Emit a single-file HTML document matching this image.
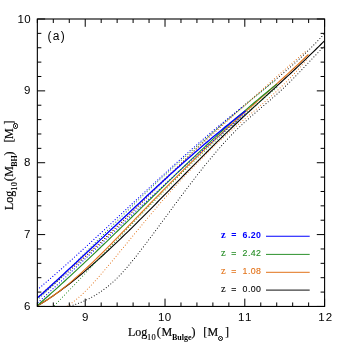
<!DOCTYPE html>
<html><head><meta charset="utf-8"><title>fig</title>
<style>
html,body{margin:0;padding:0;background:#fff;}
body{width:343px;height:343px;position:relative;overflow:hidden;font-family:"Liberation Sans",sans-serif;color:#000;}
svg{position:absolute;left:0;top:0;}
.t{position:absolute;white-space:nowrap;line-height:1;}
#w{position:absolute;left:0;top:0;width:343px;height:343px;will-change:transform;}
.tk{font-size:11.5px;letter-spacing:0.3px;}
.lab{position:absolute;width:110px;height:18px;font-family:"Liberation Serif",serif;}
.lab span{position:absolute;white-space:nowrap;line-height:1;}
.lab .m{font-size:12px;top:0;-webkit-text-stroke:0.18px #000;}
.lab .s{font-size:8px;top:7.5px;font-weight:bold;}
.lab .o{width:3.9px;height:3.9px;border:0.8px solid #000;border-radius:50%;top:9.6px;box-sizing:content-box;}
.lab .o::after{content:"";position:absolute;left:1.35px;top:1.35px;width:1.2px;height:1.2px;background:#000;border-radius:50%;}
.lg{font-size:8.8px;letter-spacing:0.4px;}
.lg .z{font-family:"Liberation Serif",serif;font-size:10.5px;letter-spacing:0;}
</style></head><body><div id="w">
<svg width="343" height="343" viewBox="0 0 343 343">
<defs><clipPath id="cp"><rect x="37.35" y="19.0" width="287.25" height="287.45"/></clipPath></defs><g clip-path="url(#cp)">
<path d="M37.30,298.50 C37.97,297.95 39.97,296.29 41.30,295.17 C42.63,294.06 43.97,292.94 45.30,291.81 C46.63,290.69 47.97,289.55 49.30,288.42 C50.63,287.28 51.97,286.14 53.30,284.99 C54.63,283.84 55.97,282.69 57.30,281.53 C58.63,280.37 59.97,279.20 61.30,278.03 C62.63,276.86 63.97,275.69 65.30,274.51 C66.63,273.33 67.97,272.15 69.30,270.96 C70.63,269.77 71.97,268.57 73.30,267.37 C74.63,266.18 75.97,264.97 77.30,263.76 C78.63,262.56 79.97,261.35 81.30,260.13 C82.63,258.91 83.97,257.69 85.30,256.47 C86.63,255.24 87.97,254.01 89.30,252.78 C90.63,251.55 91.97,250.31 93.30,249.07 C94.63,247.83 95.97,246.59 97.30,245.34 C98.63,244.09 99.97,242.84 101.30,241.59 C102.63,240.33 103.97,239.07 105.30,237.81 C106.63,236.55 107.97,235.29 109.30,234.02 C110.63,232.75 111.97,231.48 113.30,230.21 C114.63,228.94 115.97,227.66 117.30,226.38 C118.63,225.10 119.97,223.82 121.30,222.53 C122.63,221.25 123.97,219.96 125.30,218.67 C126.63,217.38 127.97,216.09 129.30,214.80 C130.63,213.50 131.97,212.21 133.30,210.91 C134.63,209.61 135.97,208.31 137.30,207.01 C138.63,205.71 139.97,204.40 141.30,203.10 C142.63,201.79 143.97,200.48 145.30,199.17 C146.63,197.86 147.97,196.55 149.30,195.24 C150.63,193.93 151.97,192.62 153.30,191.30 C154.63,189.99 155.97,188.67 157.30,187.35 C158.63,186.04 159.97,184.72 161.30,183.40 C162.63,182.08 163.97,180.76 165.30,179.44 C166.63,178.12 167.97,176.80 169.30,175.48 C170.63,174.15 171.97,172.83 173.30,171.51 C174.63,170.19 175.97,168.86 177.30,167.54 C178.63,166.22 179.97,164.89 181.30,163.57 C182.63,162.25 183.97,160.92 185.30,159.60 C186.63,158.28 187.97,156.96 189.30,155.64 C190.63,154.32 191.97,153.01 193.30,151.69 C194.63,150.38 195.97,149.07 197.30,147.77 C198.63,146.47 199.97,145.17 201.30,143.87 C202.63,142.58 203.97,141.29 205.30,140.01 C206.63,138.73 207.97,137.46 209.30,136.19 C210.63,134.93 211.97,133.67 213.30,132.42 C214.63,131.17 215.97,129.93 217.30,128.70 C218.63,127.47 219.97,126.25 221.30,125.05 C222.63,123.84 223.97,122.64 225.30,121.46 C226.63,120.27 227.97,119.10 229.30,117.93 C230.63,116.77 231.97,115.61 233.30,114.47 C234.63,113.32 235.97,112.18 237.30,111.05 C238.63,109.92 239.97,108.80 241.30,107.68 C242.63,106.57 243.97,105.46 245.30,104.35 C246.63,103.25 247.97,102.15 249.30,101.05 C250.63,99.96 251.97,98.87 253.30,97.78 C254.63,96.69 255.97,95.60 257.30,94.52 C258.63,93.43 259.97,92.35 261.30,91.27 C262.63,90.18 263.97,89.10 265.30,88.02 C266.63,86.93 267.97,85.84 269.30,84.75 C270.63,83.66 271.97,82.57 273.30,81.47 C274.63,80.37 275.97,79.27 277.30,78.16 C278.63,77.05 279.97,75.93 281.30,74.81 C282.63,73.68 283.97,72.55 285.30,71.40 C286.63,70.26 287.97,69.11 289.30,67.95 C290.63,66.78 291.97,65.61 293.30,64.42 C294.63,63.23 295.97,62.03 297.30,60.81 C298.63,59.60 299.97,58.37 301.30,57.12 C302.63,55.87 303.97,54.61 305.30,53.33 C306.63,52.05 307.97,50.76 309.30,49.44 C310.63,48.12 311.97,46.78 313.30,45.43 C314.63,44.07 315.97,42.69 317.30,41.29 C318.63,39.89 320.10,38.32 321.30,37.02 C322.50,35.72 323.97,34.09 324.50,33.50" fill="none" stroke="#000000" stroke-width="1.05" stroke-dasharray="0.01,2.9" stroke-linecap="round"/>
<path d="M70.20,306.00 C70.87,305.80 72.87,305.21 74.20,304.78 C75.53,304.35 76.87,303.89 78.20,303.39 C79.53,302.90 80.87,302.38 82.20,301.82 C83.53,301.27 84.87,300.68 86.20,300.05 C87.53,299.43 88.87,298.77 90.20,298.07 C91.53,297.37 92.87,296.64 94.20,295.86 C95.53,295.08 96.87,294.27 98.20,293.41 C99.53,292.55 100.87,291.64 102.20,290.69 C103.53,289.74 104.87,288.75 106.20,287.71 C107.53,286.67 108.87,285.58 110.20,284.43 C111.53,283.29 112.87,282.10 114.20,280.86 C115.53,279.61 116.87,278.31 118.20,276.96 C119.53,275.61 120.87,274.21 122.20,272.76 C123.53,271.31 124.87,269.81 126.20,268.28 C127.53,266.75 128.87,265.18 130.20,263.57 C131.53,261.97 132.87,260.33 134.20,258.67 C135.53,257.01 136.87,255.31 138.20,253.61 C139.53,251.90 140.87,250.17 142.20,248.43 C143.53,246.69 144.87,244.94 146.20,243.18 C147.53,241.41 148.87,239.64 150.20,237.86 C151.53,236.09 152.87,234.30 154.20,232.51 C155.53,230.72 156.87,228.92 158.20,227.12 C159.53,225.32 160.87,223.51 162.20,221.71 C163.53,219.90 164.87,218.09 166.20,216.29 C167.53,214.48 168.87,212.67 170.20,210.87 C171.53,209.06 172.87,207.26 174.20,205.46 C175.53,203.66 176.87,201.86 178.20,200.07 C179.53,198.28 180.87,196.50 182.20,194.72 C183.53,192.94 184.87,191.17 186.20,189.41 C187.53,187.65 188.87,185.89 190.20,184.15 C191.53,182.41 192.87,180.67 194.20,178.95 C195.53,177.23 196.87,175.51 198.20,173.81 C199.53,172.12 200.87,170.43 202.20,168.76 C203.53,167.09 204.87,165.43 206.20,163.79 C207.53,162.15 208.87,160.52 210.20,158.92 C211.53,157.31 212.87,155.72 214.20,154.15 C215.53,152.58 216.87,151.02 218.20,149.49 C219.53,147.96 220.87,146.45 222.20,144.96 C223.53,143.47 224.87,142.00 226.20,140.56 C227.53,139.12 228.87,137.70 230.20,136.30 C231.53,134.91 232.87,133.54 234.20,132.19 C235.53,130.85 236.87,129.53 238.20,128.24 C239.53,126.95 240.87,125.69 242.20,124.45 C243.53,123.20 244.87,121.98 246.20,120.78 C247.53,119.57 248.87,118.39 250.20,117.21 C251.53,116.04 252.87,114.88 254.20,113.73 C255.53,112.57 256.87,111.43 258.20,110.29 C259.53,109.15 260.87,108.02 262.20,106.88 C263.53,105.75 264.87,104.61 266.20,103.47 C267.53,102.33 268.87,101.19 270.20,100.04 C271.53,98.88 272.87,97.73 274.20,96.55 C275.53,95.38 276.87,94.19 278.20,92.99 C279.53,91.78 280.87,90.56 282.20,89.32 C283.53,88.08 284.87,86.81 286.20,85.52 C287.53,84.24 288.87,82.93 290.20,81.60 C291.53,80.28 292.87,78.93 294.20,77.57 C295.53,76.21 296.87,74.84 298.20,73.46 C299.53,72.08 300.87,70.68 302.20,69.28 C303.53,67.89 304.87,66.48 306.20,65.07 C307.53,63.66 308.87,62.25 310.20,60.84 C311.53,59.43 312.87,58.01 314.20,56.61 C315.53,55.20 316.87,53.80 318.20,52.41 C319.53,51.02 321.15,49.34 322.20,48.26 C323.25,47.17 324.12,46.29 324.50,45.90" fill="none" stroke="#000000" stroke-width="1.05" stroke-dasharray="0.01,2.9" stroke-linecap="round"/>
<path d="M37.30,305.80 C37.97,305.40 39.97,304.24 41.30,303.43 C42.63,302.62 43.97,301.79 45.30,300.95 C46.63,300.10 47.97,299.24 49.30,298.36 C50.63,297.48 51.97,296.58 53.30,295.67 C54.63,294.76 55.97,293.82 57.30,292.88 C58.63,291.93 59.97,290.97 61.30,289.99 C62.63,289.02 63.97,288.02 65.30,287.02 C66.63,286.01 67.97,284.99 69.30,283.95 C70.63,282.92 71.97,281.87 73.30,280.81 C74.63,279.75 75.97,278.67 77.30,277.58 C78.63,276.50 79.97,275.39 81.30,274.28 C82.63,273.17 83.97,272.05 85.30,270.91 C86.63,269.78 87.97,268.63 89.30,267.47 C90.63,266.32 91.97,265.15 93.30,263.97 C94.63,262.79 95.97,261.61 97.30,260.41 C98.63,259.21 99.97,258.01 101.30,256.79 C102.63,255.58 103.97,254.36 105.30,253.13 C106.63,251.90 107.97,250.66 109.30,249.41 C110.63,248.17 111.97,246.91 113.30,245.66 C114.63,244.40 115.97,243.13 117.30,241.86 C118.63,240.59 119.97,239.31 121.30,238.02 C122.63,236.74 123.97,235.45 125.30,234.15 C126.63,232.86 127.97,231.56 129.30,230.25 C130.63,228.94 131.97,227.63 133.30,226.32 C134.63,225.00 135.97,223.68 137.30,222.36 C138.63,221.04 139.97,219.71 141.30,218.38 C142.63,217.04 143.97,215.71 145.30,214.37 C146.63,213.03 147.97,211.69 149.30,210.35 C150.63,209.00 151.97,207.66 153.30,206.31 C154.63,204.96 155.97,203.61 157.30,202.26 C158.63,200.90 159.97,199.55 161.30,198.19 C162.63,196.84 163.97,195.48 165.30,194.12 C166.63,192.76 167.97,191.40 169.30,190.04 C170.63,188.69 171.97,187.32 173.30,185.97 C174.63,184.61 175.97,183.25 177.30,181.89 C178.63,180.53 179.97,179.17 181.30,177.81 C182.63,176.45 183.97,175.09 185.30,173.74 C186.63,172.38 187.97,171.03 189.30,169.67 C190.63,168.32 191.97,166.97 193.30,165.62 C194.63,164.27 195.97,162.93 197.30,161.58 C198.63,160.24 199.97,158.90 201.30,157.56 C202.63,156.22 203.97,154.89 205.30,153.56 C206.63,152.23 207.97,150.90 209.30,149.58 C210.63,148.25 211.97,146.93 213.30,145.62 C214.63,144.30 215.97,142.99 217.30,141.69 C218.63,140.38 219.97,139.08 221.30,137.79 C222.63,136.49 223.97,135.20 225.30,133.92 C226.63,132.63 227.97,131.36 229.30,130.08 C230.63,128.81 231.97,127.54 233.30,126.28 C234.63,125.02 235.97,123.76 237.30,122.51 C238.63,121.26 239.97,120.01 241.30,118.76 C242.63,117.52 243.97,116.28 245.30,115.04 C246.63,113.80 247.97,112.57 249.30,111.33 C250.63,110.10 251.97,108.87 253.30,107.64 C254.63,106.42 255.97,105.19 257.30,103.97 C258.63,102.74 259.97,101.52 261.30,100.30 C262.63,99.08 263.97,97.86 265.30,96.64 C266.63,95.42 267.97,94.20 269.30,92.97 C270.63,91.75 271.97,90.53 273.30,89.31 C274.63,88.09 275.97,86.87 277.30,85.64 C278.63,84.42 279.97,83.20 281.30,81.97 C282.63,80.74 283.97,79.51 285.30,78.28 C286.63,77.05 287.97,75.81 289.30,74.58 C290.63,73.34 291.97,72.10 293.30,70.86 C294.63,69.61 295.97,68.36 297.30,67.11 C298.63,65.86 299.97,64.60 301.30,63.34 C302.63,62.08 303.97,60.82 305.30,59.54 C306.63,58.27 307.97,57.00 309.30,55.71 C310.63,54.43 311.97,53.14 313.30,51.85 C314.63,50.55 315.97,49.25 317.30,47.94 C318.63,46.63 320.10,45.18 321.30,43.99 C322.50,42.80 323.97,41.33 324.50,40.80" fill="none" stroke="#000000" stroke-width="1.12"/>
<path d="M37.30,297.80 C37.97,297.17 39.97,295.27 41.30,294.04 C42.63,292.80 43.97,291.58 45.30,290.37 C46.63,289.16 47.97,287.96 49.30,286.78 C50.63,285.60 51.97,284.43 53.30,283.26 C54.63,282.10 55.97,280.95 57.30,279.80 C58.63,278.66 59.97,277.52 61.30,276.39 C62.63,275.26 63.97,274.14 65.30,273.01 C66.63,271.89 67.97,270.77 69.30,269.66 C70.63,268.54 71.97,267.42 73.30,266.31 C74.63,265.19 75.97,264.08 77.30,262.96 C78.63,261.84 79.97,260.72 81.30,259.59 C82.63,258.47 83.97,257.34 85.30,256.20 C86.63,255.06 87.97,253.92 89.30,252.77 C90.63,251.61 91.97,250.45 93.30,249.28 C94.63,248.11 95.97,246.93 97.30,245.73 C98.63,244.54 99.97,243.33 101.30,242.11 C102.63,240.88 103.97,239.64 105.30,238.39 C106.63,237.14 107.97,235.88 109.30,234.60 C110.63,233.32 111.97,232.03 113.30,230.73 C114.63,229.43 115.97,228.12 117.30,226.80 C118.63,225.48 119.97,224.16 121.30,222.82 C122.63,221.49 123.97,220.14 125.30,218.79 C126.63,217.45 127.97,216.09 129.30,214.73 C130.63,213.37 131.97,212.01 133.30,210.65 C134.63,209.28 135.97,207.91 137.30,206.55 C138.63,205.18 139.97,203.81 141.30,202.44 C142.63,201.07 143.97,199.70 145.30,198.34 C146.63,196.97 147.97,195.61 149.30,194.25 C150.63,192.89 151.97,191.53 153.30,190.19 C154.63,188.84 155.97,187.49 157.30,186.15 C158.63,184.82 159.97,183.49 161.30,182.17 C162.63,180.84 163.97,179.53 165.30,178.23 C166.63,176.92 167.97,175.63 169.30,174.34 C170.63,173.05 171.97,171.77 173.30,170.50 C174.63,169.23 175.97,167.96 177.30,166.70 C178.63,165.44 179.97,164.19 181.30,162.94 C182.63,161.69 183.97,160.45 185.30,159.21 C186.63,157.98 187.97,156.75 189.30,155.52 C190.63,154.29 191.97,153.07 193.30,151.85 C194.63,150.63 195.97,149.42 197.30,148.21 C198.63,146.99 199.97,145.79 201.30,144.58 C202.63,143.37 203.97,142.17 205.30,140.97 C206.63,139.77 207.97,138.57 209.30,137.37 C210.63,136.17 211.97,134.97 213.30,133.77 C214.63,132.58 215.97,131.38 217.30,130.18 C218.63,128.99 219.97,127.79 221.30,126.59 C222.63,125.40 223.97,124.20 225.30,123.00 C226.63,121.80 227.97,120.60 229.30,119.39 C230.63,118.19 231.97,116.99 233.30,115.79 C234.63,114.58 235.97,113.38 237.30,112.17 C238.63,110.97 239.97,109.77 241.30,108.56 C242.63,107.36 243.97,106.15 245.30,104.95 C246.63,103.74 247.97,102.54 249.30,101.33 C250.63,100.13 251.97,98.92 253.30,97.72 C254.63,96.52 255.97,95.31 257.30,94.11 C258.63,92.91 259.97,91.71 261.30,90.51 C262.63,89.31 263.97,88.11 265.30,86.91 C266.63,85.71 267.97,84.52 269.30,83.32 C270.63,82.13 271.97,80.93 273.30,79.74 C274.63,78.55 275.97,77.36 277.30,76.18 C278.63,74.99 279.97,73.81 281.30,72.62 C282.63,71.44 283.97,70.26 285.30,69.08 C286.63,67.91 287.97,66.73 289.30,65.56 C290.63,64.39 291.97,63.22 293.30,62.05 C294.63,60.89 295.97,59.73 297.30,58.57 C298.63,57.41 299.97,56.25 301.30,55.10 C302.63,53.95 304.35,52.47 305.30,51.66 C306.25,50.84 306.72,50.44 307.00,50.20" fill="none" stroke="#e27219" stroke-width="1.05" stroke-dasharray="0.01,2.9" stroke-linecap="round"/>
<path d="M67.30,306.00 C67.97,305.56 69.97,304.28 71.30,303.33 C72.63,302.37 73.97,301.35 75.30,300.28 C76.63,299.21 77.97,298.08 79.30,296.90 C80.63,295.73 81.97,294.50 83.30,293.23 C84.63,291.96 85.97,290.64 87.30,289.29 C88.63,287.94 89.97,286.54 91.30,285.12 C92.63,283.70 93.97,282.24 95.30,280.76 C96.63,279.29 97.97,277.78 99.30,276.25 C100.63,274.72 101.97,273.17 103.30,271.61 C104.63,270.05 105.97,268.47 107.30,266.89 C108.63,265.31 109.97,263.71 111.30,262.11 C112.63,260.52 113.97,258.91 115.30,257.31 C116.63,255.70 117.97,254.09 119.30,252.47 C120.63,250.86 121.97,249.24 123.30,247.62 C124.63,246.00 125.97,244.38 127.30,242.75 C128.63,241.13 129.97,239.51 131.30,237.89 C132.63,236.26 133.97,234.64 135.30,233.02 C136.63,231.40 137.97,229.78 139.30,228.17 C140.63,226.55 141.97,224.94 143.30,223.33 C144.63,221.72 145.97,220.12 147.30,218.52 C148.63,216.92 149.97,215.33 151.30,213.75 C152.63,212.16 153.97,210.58 155.30,209.01 C156.63,207.44 157.97,205.87 159.30,204.32 C160.63,202.77 161.97,201.22 163.30,199.69 C164.63,198.15 165.97,196.63 167.30,195.11 C168.63,193.60 169.97,192.10 171.30,190.61 C172.63,189.11 173.97,187.63 175.30,186.16 C176.63,184.69 177.97,183.23 179.30,181.78 C180.63,180.33 181.97,178.89 183.30,177.46 C184.63,176.03 185.97,174.62 187.30,173.21 C188.63,171.80 189.97,170.40 191.30,169.02 C192.63,167.63 193.97,166.25 195.30,164.89 C196.63,163.52 197.97,162.17 199.30,160.82 C200.63,159.48 201.97,158.14 203.30,156.82 C204.63,155.50 205.97,154.18 207.30,152.88 C208.63,151.58 209.97,150.28 211.30,149.00 C212.63,147.72 213.97,146.45 215.30,145.19 C216.63,143.93 217.97,142.67 219.30,141.43 C220.63,140.19 221.97,138.96 223.30,137.74 C224.63,136.52 225.97,135.31 227.30,134.12 C228.63,132.92 229.97,131.73 231.30,130.55 C232.63,129.37 233.97,128.20 235.30,127.04 C236.63,125.88 237.97,124.73 239.30,123.59 C240.63,122.44 241.97,121.30 243.30,120.16 C244.63,119.03 245.97,117.90 247.30,116.76 C248.63,115.63 249.97,114.50 251.30,113.37 C252.63,112.24 253.97,111.10 255.30,109.97 C256.63,108.83 257.97,107.69 259.30,106.54 C260.63,105.40 261.97,104.25 263.30,103.09 C264.63,101.93 265.97,100.76 267.30,99.58 C268.63,98.40 269.97,97.22 271.30,96.01 C272.63,94.81 273.97,93.60 275.30,92.37 C276.63,91.14 277.97,89.90 279.30,88.63 C280.63,87.37 281.97,86.09 283.30,84.80 C284.63,83.50 285.97,82.18 287.30,80.84 C288.63,79.50 289.97,78.14 291.30,76.75 C292.63,75.36 293.97,73.95 295.30,72.51 C296.63,71.07 297.97,69.61 299.30,68.12 C300.63,66.62 301.97,65.10 303.30,63.55 C304.63,61.99 306.57,59.66 307.30,58.79 C308.03,57.91 307.63,58.38 307.70,58.30" fill="none" stroke="#e27219" stroke-width="1.05" stroke-dasharray="0.01,2.9" stroke-linecap="round"/>
<path d="M37.30,305.80 C37.97,305.42 39.97,304.30 41.30,303.50 C42.63,302.71 43.97,301.89 45.30,301.04 C46.63,300.20 47.97,299.32 49.30,298.43 C50.63,297.53 51.97,296.61 53.30,295.67 C54.63,294.72 55.97,293.76 57.30,292.77 C58.63,291.78 59.97,290.77 61.30,289.74 C62.63,288.71 63.97,287.65 65.30,286.58 C66.63,285.51 67.97,284.42 69.30,283.31 C70.63,282.20 71.97,281.07 73.30,279.93 C74.63,278.79 75.97,277.62 77.30,276.45 C78.63,275.27 79.97,274.08 81.30,272.87 C82.63,271.66 83.97,270.44 85.30,269.20 C86.63,267.97 87.97,266.72 89.30,265.46 C90.63,264.19 91.97,262.92 93.30,261.64 C94.63,260.35 95.97,259.05 97.30,257.75 C98.63,256.44 99.97,255.13 101.30,253.81 C102.63,252.48 103.97,251.15 105.30,249.81 C106.63,248.47 107.97,247.12 109.30,245.77 C110.63,244.42 111.97,243.06 113.30,241.70 C114.63,240.33 115.97,238.96 117.30,237.59 C118.63,236.22 119.97,234.84 121.30,233.46 C122.63,232.08 123.97,230.70 125.30,229.32 C126.63,227.94 127.97,226.56 129.30,225.17 C130.63,223.79 131.97,222.41 133.30,221.02 C134.63,219.64 135.97,218.26 137.30,216.88 C138.63,215.50 139.97,214.12 141.30,212.75 C142.63,211.37 143.97,210.00 145.30,208.62 C146.63,207.25 147.97,205.88 149.30,204.51 C150.63,203.14 151.97,201.78 153.30,200.41 C154.63,199.05 155.97,197.68 157.30,196.32 C158.63,194.96 159.97,193.61 161.30,192.25 C162.63,190.90 163.97,189.54 165.30,188.19 C166.63,186.84 167.97,185.50 169.30,184.15 C170.63,182.81 171.97,181.47 173.30,180.13 C174.63,178.79 175.97,177.45 177.30,176.12 C178.63,174.79 179.97,173.46 181.30,172.14 C182.63,170.81 183.97,169.49 185.30,168.17 C186.63,166.86 187.97,165.54 189.30,164.23 C190.63,162.92 191.97,161.61 193.30,160.31 C194.63,159.01 195.97,157.71 197.30,156.42 C198.63,155.12 199.97,153.83 201.30,152.55 C202.63,151.26 203.97,149.98 205.30,148.70 C206.63,147.43 207.97,146.15 209.30,144.89 C210.63,143.62 211.97,142.36 213.30,141.10 C214.63,139.84 215.97,138.59 217.30,137.34 C218.63,136.09 219.97,134.85 221.30,133.61 C222.63,132.37 223.97,131.14 225.30,129.92 C226.63,128.69 227.97,127.47 229.30,126.25 C230.63,125.03 231.97,123.82 233.30,122.61 C234.63,121.41 235.97,120.20 237.30,119.00 C238.63,117.80 239.97,116.60 241.30,115.41 C242.63,114.21 243.97,113.02 245.30,111.83 C246.63,110.64 247.97,109.46 249.30,108.27 C250.63,107.08 251.97,105.90 253.30,104.71 C254.63,103.53 255.97,102.35 257.30,101.16 C258.63,99.98 259.97,98.80 261.30,97.61 C262.63,96.43 263.97,95.24 265.30,94.06 C266.63,92.87 267.97,91.69 269.30,90.50 C270.63,89.31 271.97,88.12 273.30,86.92 C274.63,85.73 275.97,84.54 277.30,83.34 C278.63,82.14 279.97,80.94 281.30,79.73 C282.63,78.53 283.97,77.32 285.30,76.10 C286.63,74.89 287.97,73.67 289.30,72.45 C290.63,71.22 291.97,70.00 293.30,68.76 C294.63,67.53 295.97,66.29 297.30,65.04 C298.63,63.79 299.97,62.54 301.30,61.28 C302.63,60.02 304.12,58.61 305.30,57.48 C306.48,56.35 307.88,55.00 308.40,54.50" fill="none" stroke="#e27219" stroke-width="1.12"/>
<path d="M37.30,300.00 C37.97,299.37 39.97,297.48 41.30,296.21 C42.63,294.94 43.97,293.66 45.30,292.38 C46.63,291.10 47.97,289.81 49.30,288.52 C50.63,287.23 51.97,285.93 53.30,284.63 C54.63,283.32 55.97,282.02 57.30,280.71 C58.63,279.40 59.97,278.08 61.30,276.76 C62.63,275.44 63.97,274.12 65.30,272.80 C66.63,271.47 67.97,270.14 69.30,268.81 C70.63,267.48 71.97,266.15 73.30,264.81 C74.63,263.48 75.97,262.14 77.30,260.80 C78.63,259.46 79.97,258.12 81.30,256.78 C82.63,255.44 83.97,254.09 85.30,252.75 C86.63,251.41 87.97,250.06 89.30,248.72 C90.63,247.38 91.97,246.03 93.30,244.69 C94.63,243.35 95.97,242.01 97.30,240.66 C98.63,239.32 99.97,237.98 101.30,236.64 C102.63,235.31 103.97,233.97 105.30,232.63 C106.63,231.30 107.97,229.97 109.30,228.64 C110.63,227.31 111.97,225.98 113.30,224.65 C114.63,223.33 115.97,222.01 117.30,220.69 C118.63,219.37 119.97,218.05 121.30,216.74 C122.63,215.43 123.97,214.12 125.30,212.81 C126.63,211.50 127.97,210.20 129.30,208.90 C130.63,207.60 131.97,206.30 133.30,205.01 C134.63,203.72 135.97,202.43 137.30,201.14 C138.63,199.86 139.97,198.57 141.30,197.29 C142.63,196.02 143.97,194.74 145.30,193.47 C146.63,192.20 147.97,190.93 149.30,189.67 C150.63,188.40 151.97,187.15 153.30,185.89 C154.63,184.64 155.97,183.38 157.30,182.14 C158.63,180.89 159.97,179.65 161.30,178.41 C162.63,177.17 163.97,175.94 165.30,174.71 C166.63,173.48 167.97,172.26 169.30,171.03 C170.63,169.81 171.97,168.60 173.30,167.38 C174.63,166.17 175.97,164.96 177.30,163.75 C178.63,162.55 179.97,161.35 181.30,160.15 C182.63,158.95 183.97,157.76 185.30,156.57 C186.63,155.38 187.97,154.19 189.30,153.01 C190.63,151.82 191.97,150.64 193.30,149.47 C194.63,148.29 195.97,147.12 197.30,145.95 C198.63,144.78 199.97,143.61 201.30,142.45 C202.63,141.28 203.97,140.12 205.30,138.96 C206.63,137.81 207.97,136.65 209.30,135.50 C210.63,134.35 211.97,133.20 213.30,132.05 C214.63,130.91 215.97,129.76 217.30,128.62 C218.63,127.48 219.97,126.34 221.30,125.21 C222.63,124.07 223.97,122.94 225.30,121.81 C226.63,120.68 227.97,119.55 229.30,118.42 C230.63,117.29 231.97,116.17 233.30,115.05 C234.63,113.93 235.97,112.81 237.30,111.69 C238.63,110.57 239.97,109.45 241.30,108.34 C242.63,107.23 243.97,106.11 245.30,105.00 C246.63,103.89 247.97,102.79 249.30,101.68 C250.63,100.57 251.97,99.47 253.30,98.36 C254.63,97.26 255.97,96.16 257.30,95.05 C258.63,93.95 259.97,92.85 261.30,91.76 C262.63,90.66 263.97,89.56 265.30,88.46 C266.63,87.37 267.97,86.27 269.30,85.18 C270.63,84.08 272.08,82.90 273.30,81.90 C274.52,80.90 276.05,79.65 276.60,79.20" fill="none" stroke="#228b22" stroke-width="1.05" stroke-dasharray="0.01,2.9" stroke-linecap="round"/>
<path d="M54.40,305.50 C55.07,304.82 57.07,302.78 58.40,301.42 C59.73,300.05 61.07,298.68 62.40,297.31 C63.73,295.93 65.07,294.55 66.40,293.17 C67.73,291.79 69.07,290.40 70.40,289.01 C71.73,287.62 73.07,286.23 74.40,284.83 C75.73,283.44 77.07,282.04 78.40,280.64 C79.73,279.24 81.07,277.83 82.40,276.43 C83.73,275.03 85.07,273.62 86.40,272.21 C87.73,270.80 89.07,269.39 90.40,267.98 C91.73,266.57 93.07,265.16 94.40,263.75 C95.73,262.34 97.07,260.93 98.40,259.52 C99.73,258.10 101.07,256.69 102.40,255.28 C103.73,253.87 105.07,252.46 106.40,251.05 C107.73,249.64 109.07,248.23 110.40,246.82 C111.73,245.41 113.07,244.00 114.40,242.60 C115.73,241.19 117.07,239.78 118.40,238.38 C119.73,236.98 121.07,235.57 122.40,234.17 C123.73,232.77 125.07,231.37 126.40,229.97 C127.73,228.57 129.07,227.17 130.40,225.78 C131.73,224.38 133.07,222.99 134.40,221.60 C135.73,220.21 137.07,218.82 138.40,217.43 C139.73,216.04 141.07,214.66 142.40,213.27 C143.73,211.89 145.07,210.51 146.40,209.13 C147.73,207.75 149.07,206.38 150.40,205.00 C151.73,203.63 153.07,202.26 154.40,200.89 C155.73,199.52 157.07,198.15 158.40,196.79 C159.73,195.43 161.07,194.07 162.40,192.71 C163.73,191.35 165.07,190.00 166.40,188.65 C167.73,187.30 169.07,185.95 170.40,184.61 C171.73,183.26 173.07,181.92 174.40,180.59 C175.73,179.25 177.07,177.92 178.40,176.59 C179.73,175.26 181.07,173.93 182.40,172.61 C183.73,171.29 185.07,169.97 186.40,168.65 C187.73,167.34 189.07,166.03 190.40,164.72 C191.73,163.42 193.07,162.12 194.40,160.82 C195.73,159.52 197.07,158.23 198.40,156.94 C199.73,155.65 201.07,154.37 202.40,153.09 C203.73,151.81 205.07,150.54 206.40,149.27 C207.73,148.00 209.07,146.73 210.40,145.47 C211.73,144.21 213.07,142.96 214.40,141.71 C215.73,140.46 217.07,139.21 218.40,137.98 C219.73,136.74 221.07,135.50 222.40,134.28 C223.73,133.05 225.07,131.82 226.40,130.61 C227.73,129.39 229.07,128.18 230.40,126.98 C231.73,125.77 233.07,124.57 234.40,123.38 C235.73,122.18 237.07,121.00 238.40,119.82 C239.73,118.63 241.07,117.46 242.40,116.29 C243.73,115.12 245.07,113.96 246.40,112.80 C247.73,111.65 249.07,110.50 250.40,109.36 C251.73,108.22 253.07,107.08 254.40,105.95 C255.73,104.82 257.07,103.70 258.40,102.58 C259.73,101.47 261.07,100.36 262.40,99.26 C263.73,98.16 265.07,97.07 266.40,95.98 C267.73,94.89 269.07,93.81 270.40,92.74 C271.73,91.67 273.30,90.42 274.40,89.55 C275.50,88.68 276.57,87.84 277.00,87.50" fill="none" stroke="#228b22" stroke-width="1.05" stroke-dasharray="0.01,2.9" stroke-linecap="round"/>
<path d="M37.30,305.50 C37.97,304.92 39.97,303.19 41.30,302.02 C42.63,300.86 43.97,299.69 45.30,298.52 C46.63,297.34 47.97,296.16 49.30,294.98 C50.63,293.79 51.97,292.60 53.30,291.41 C54.63,290.21 55.97,289.01 57.30,287.81 C58.63,286.60 59.97,285.39 61.30,284.18 C62.63,282.97 63.97,281.75 65.30,280.53 C66.63,279.30 67.97,278.08 69.30,276.85 C70.63,275.62 71.97,274.39 73.30,273.15 C74.63,271.91 75.97,270.67 77.30,269.42 C78.63,268.18 79.97,266.93 81.30,265.68 C82.63,264.43 83.97,263.17 85.30,261.92 C86.63,260.66 87.97,259.40 89.30,258.13 C90.63,256.87 91.97,255.60 93.30,254.33 C94.63,253.07 95.97,251.79 97.30,250.52 C98.63,249.25 99.97,247.97 101.30,246.69 C102.63,245.41 103.97,244.13 105.30,242.85 C106.63,241.57 107.97,240.28 109.30,238.99 C110.63,237.71 111.97,236.42 113.30,235.13 C114.63,233.84 115.97,232.55 117.30,231.26 C118.63,229.96 119.97,228.67 121.30,227.37 C122.63,226.08 123.97,224.78 125.30,223.49 C126.63,222.19 127.97,220.89 129.30,219.59 C130.63,218.30 131.97,217.00 133.30,215.70 C134.63,214.40 135.97,213.10 137.30,211.80 C138.63,210.50 139.97,209.20 141.30,207.90 C142.63,206.60 143.97,205.29 145.30,203.99 C146.63,202.69 147.97,201.39 149.30,200.09 C150.63,198.80 151.97,197.50 153.30,196.20 C154.63,194.90 155.97,193.60 157.30,192.30 C158.63,191.01 159.97,189.71 161.30,188.42 C162.63,187.12 163.97,185.83 165.30,184.54 C166.63,183.24 167.97,181.95 169.30,180.66 C170.63,179.37 171.97,178.08 173.30,176.80 C174.63,175.51 175.97,174.23 177.30,172.94 C178.63,171.66 179.97,170.38 181.30,169.10 C182.63,167.82 183.97,166.55 185.30,165.27 C186.63,164.00 187.97,162.73 189.30,161.46 C190.63,160.19 191.97,158.92 193.30,157.66 C194.63,156.39 195.97,155.13 197.30,153.88 C198.63,152.62 199.97,151.36 201.30,150.11 C202.63,148.86 203.97,147.61 205.30,146.37 C206.63,145.12 207.97,143.88 209.30,142.65 C210.63,141.41 211.97,140.17 213.30,138.94 C214.63,137.72 215.97,136.49 217.30,135.27 C218.63,134.05 219.97,132.83 221.30,131.62 C222.63,130.40 223.97,129.19 225.30,127.99 C226.63,126.78 227.97,125.58 229.30,124.39 C230.63,123.20 231.97,122.00 233.30,120.82 C234.63,119.63 235.97,118.45 237.30,117.28 C238.63,116.11 239.97,114.94 241.30,113.77 C242.63,112.61 243.97,111.45 245.30,110.30 C246.63,109.14 247.97,108.00 249.30,106.85 C250.63,105.71 251.97,104.58 253.30,103.45 C254.63,102.32 255.97,101.19 257.30,100.08 C258.63,98.96 259.97,97.85 261.30,96.75 C262.63,95.64 263.97,94.54 265.30,93.45 C266.63,92.36 267.97,91.28 269.30,90.20 C270.63,89.12 271.98,88.04 273.30,86.99 C274.62,85.94 276.55,84.42 277.20,83.90" fill="none" stroke="#228b22" stroke-width="1.12"/>
<path d="M37.30,289.70 C37.97,289.14 39.97,287.45 41.30,286.32 C42.63,285.18 43.97,284.05 45.30,282.90 C46.63,281.76 47.97,280.61 49.30,279.46 C50.63,278.30 51.97,277.15 53.30,275.98 C54.63,274.82 55.97,273.65 57.30,272.48 C58.63,271.31 59.97,270.13 61.30,268.95 C62.63,267.77 63.97,266.59 65.30,265.40 C66.63,264.21 67.97,263.02 69.30,261.82 C70.63,260.63 71.97,259.43 73.30,258.22 C74.63,257.02 75.97,255.82 77.30,254.61 C78.63,253.40 79.97,252.19 81.30,250.97 C82.63,249.76 83.97,248.54 85.30,247.32 C86.63,246.10 87.97,244.87 89.30,243.65 C90.63,242.42 91.97,241.20 93.30,239.97 C94.63,238.74 95.97,237.51 97.30,236.27 C98.63,235.04 99.97,233.80 101.30,232.57 C102.63,231.33 103.97,230.09 105.30,228.85 C106.63,227.61 107.97,226.37 109.30,225.13 C110.63,223.89 111.97,222.64 113.30,221.40 C114.63,220.16 115.97,218.91 117.30,217.67 C118.63,216.42 119.97,215.18 121.30,213.93 C122.63,212.68 123.97,211.44 125.30,210.19 C126.63,208.95 127.97,207.70 129.30,206.45 C130.63,205.21 131.97,203.96 133.30,202.72 C134.63,201.47 135.97,200.23 137.30,198.98 C138.63,197.74 139.97,196.49 141.30,195.25 C142.63,194.01 143.97,192.77 145.30,191.53 C146.63,190.29 147.97,189.05 149.30,187.81 C150.63,186.57 151.97,185.34 153.30,184.10 C154.63,182.87 155.97,181.64 157.30,180.41 C158.63,179.18 159.97,177.95 161.30,176.72 C162.63,175.50 163.97,174.27 165.30,173.05 C166.63,171.83 167.97,170.61 169.30,169.39 C170.63,168.18 171.97,166.96 173.30,165.75 C174.63,164.54 175.97,163.34 177.30,162.13 C178.63,160.93 179.97,159.73 181.30,158.53 C182.63,157.33 183.97,156.14 185.30,154.95 C186.63,153.76 187.97,152.58 189.30,151.39 C190.63,150.21 191.97,149.03 193.30,147.86 C194.63,146.69 195.97,145.52 197.30,144.35 C198.63,143.19 199.97,142.03 201.30,140.87 C202.63,139.72 203.97,138.57 205.30,137.42 C206.63,136.27 207.97,135.13 209.30,134.00 C210.63,132.86 211.97,131.73 213.30,130.61 C214.63,129.49 215.97,128.37 217.30,127.25 C218.63,126.14 219.97,125.03 221.30,123.93 C222.63,122.83 223.97,121.74 225.30,120.65 C226.63,119.56 227.97,118.48 229.30,117.40 C230.63,116.33 231.97,115.26 233.30,114.19 C234.63,113.13 235.97,112.08 237.30,111.03 C238.63,109.98 240.42,108.59 241.30,107.91 C242.18,107.22 242.38,107.07 242.60,106.90" fill="none" stroke="#0000ff" stroke-width="1.18" stroke-dasharray="0.01,2.9" stroke-linecap="round"/>
<path d="M38.00,302.50 C38.67,301.89 40.67,300.07 42.00,298.85 C43.33,297.63 44.67,296.41 46.00,295.19 C47.33,293.97 48.67,292.74 50.00,291.51 C51.33,290.29 52.67,289.06 54.00,287.83 C55.33,286.60 56.67,285.37 58.00,284.13 C59.33,282.90 60.67,281.66 62.00,280.43 C63.33,279.19 64.67,277.95 66.00,276.71 C67.33,275.47 68.67,274.23 70.00,272.99 C71.33,271.75 72.67,270.50 74.00,269.26 C75.33,268.01 76.67,266.77 78.00,265.52 C79.33,264.27 80.67,263.02 82.00,261.78 C83.33,260.53 84.67,259.28 86.00,258.03 C87.33,256.78 88.67,255.53 90.00,254.27 C91.33,253.02 92.67,251.77 94.00,250.52 C95.33,249.27 96.67,248.01 98.00,246.76 C99.33,245.51 100.67,244.25 102.00,243.00 C103.33,241.75 104.67,240.49 106.00,239.24 C107.33,237.98 108.67,236.73 110.00,235.48 C111.33,234.22 112.67,232.97 114.00,231.71 C115.33,230.46 116.67,229.21 118.00,227.95 C119.33,226.70 120.67,225.45 122.00,224.20 C123.33,222.94 124.67,221.69 126.00,220.44 C127.33,219.19 128.67,217.94 130.00,216.69 C131.33,215.44 132.67,214.19 134.00,212.94 C135.33,211.70 136.67,210.45 138.00,209.20 C139.33,207.96 140.67,206.71 142.00,205.47 C143.33,204.23 144.67,202.98 146.00,201.74 C147.33,200.50 148.67,199.26 150.00,198.02 C151.33,196.78 152.67,195.55 154.00,194.31 C155.33,193.08 156.67,191.84 158.00,190.61 C159.33,189.38 160.67,188.15 162.00,186.92 C163.33,185.69 164.67,184.46 166.00,183.24 C167.33,182.01 168.67,180.79 170.00,179.57 C171.33,178.35 172.67,177.13 174.00,175.91 C175.33,174.70 176.67,173.48 178.00,172.27 C179.33,171.06 180.67,169.85 182.00,168.64 C183.33,167.43 184.67,166.23 186.00,165.03 C187.33,163.83 188.67,162.63 190.00,161.43 C191.33,160.23 192.67,159.04 194.00,157.85 C195.33,156.66 196.67,155.47 198.00,154.29 C199.33,153.10 200.67,151.92 202.00,150.74 C203.33,149.56 204.67,148.39 206.00,147.22 C207.33,146.04 208.67,144.87 210.00,143.71 C211.33,142.54 212.67,141.38 214.00,140.22 C215.33,139.07 216.67,137.91 218.00,136.76 C219.33,135.61 220.67,134.46 222.00,133.32 C223.33,132.17 224.67,131.03 226.00,129.90 C227.33,128.76 228.67,127.63 230.00,126.50 C231.33,125.38 232.67,124.25 234.00,123.13 C235.33,122.02 236.67,120.90 238.00,119.79 C239.33,118.68 240.83,117.44 242.00,116.47 C243.17,115.51 244.50,114.41 245.00,114.00" fill="none" stroke="#0000ff" stroke-width="1.18" stroke-dasharray="0.01,2.9" stroke-linecap="round"/>
<path d="M37.30,298.00 C37.97,297.40 39.97,295.62 41.30,294.43 C42.63,293.23 43.97,292.03 45.30,290.83 C46.63,289.63 47.97,288.42 49.30,287.21 C50.63,286.01 51.97,284.79 53.30,283.58 C54.63,282.36 55.97,281.14 57.30,279.92 C58.63,278.70 59.97,277.48 61.30,276.25 C62.63,275.02 63.97,273.79 65.30,272.56 C66.63,271.33 67.97,270.10 69.30,268.86 C70.63,267.62 71.97,266.39 73.30,265.15 C74.63,263.90 75.97,262.66 77.30,261.42 C78.63,260.17 79.97,258.93 81.30,257.68 C82.63,256.43 83.97,255.18 85.30,253.93 C86.63,252.68 87.97,251.43 89.30,250.18 C90.63,248.92 91.97,247.67 93.30,246.41 C94.63,245.16 95.97,243.90 97.30,242.65 C98.63,241.39 99.97,240.13 101.30,238.87 C102.63,237.62 103.97,236.36 105.30,235.10 C106.63,233.84 107.97,232.58 109.30,231.32 C110.63,230.06 111.97,228.80 113.30,227.55 C114.63,226.29 115.97,225.03 117.30,223.77 C118.63,222.51 119.97,221.25 121.30,220.00 C122.63,218.74 123.97,217.48 125.30,216.23 C126.63,214.97 127.97,213.71 129.30,212.46 C130.63,211.21 131.97,209.95 133.30,208.70 C134.63,207.45 135.97,206.20 137.30,204.95 C138.63,203.70 139.97,202.45 141.30,201.21 C142.63,199.96 143.97,198.71 145.30,197.47 C146.63,196.23 147.97,194.99 149.30,193.75 C150.63,192.51 151.97,191.27 153.30,190.04 C154.63,188.81 155.97,187.57 157.30,186.34 C158.63,185.12 159.97,183.89 161.30,182.66 C162.63,181.44 163.97,180.22 165.30,179.00 C166.63,177.78 167.97,176.57 169.30,175.35 C170.63,174.14 171.97,172.93 173.30,171.73 C174.63,170.52 175.97,169.32 177.30,168.12 C178.63,166.92 179.97,165.72 181.30,164.53 C182.63,163.34 183.97,162.15 185.30,160.97 C186.63,159.79 187.97,158.61 189.30,157.43 C190.63,156.26 191.97,155.09 193.30,153.92 C194.63,152.75 195.97,151.59 197.30,150.43 C198.63,149.28 199.97,148.12 201.30,146.97 C202.63,145.83 203.97,144.68 205.30,143.55 C206.63,142.41 207.97,141.27 209.30,140.15 C210.63,139.02 211.97,137.90 213.30,136.78 C214.63,135.66 215.97,134.55 217.30,133.45 C218.63,132.34 219.97,131.24 221.30,130.15 C222.63,129.06 223.97,127.97 225.30,126.89 C226.63,125.80 227.97,124.73 229.30,123.66 C230.63,122.59 231.97,121.53 233.30,120.47 C234.63,119.42 235.97,118.37 237.30,117.32 C238.63,116.28 239.97,115.25 241.30,114.22 C242.63,113.19 244.60,111.69 245.30,111.15 C246.00,110.62 245.47,111.03 245.50,111.00" fill="none" stroke="#0000ff" stroke-width="1.35"/>
</g>
<path d="M37.35,306.45 v-4.0 M37.35,19.0 v4.0 M53.31,306.45 v-4.0 M53.31,19.0 v4.0 M69.27,306.45 v-4.0 M69.27,19.0 v4.0 M85.22,306.45 v-7.8 M85.22,19.0 v7.8 M101.18,306.45 v-4.0 M101.18,19.0 v4.0 M117.14,306.45 v-4.0 M117.14,19.0 v4.0 M133.10,306.45 v-4.0 M133.10,19.0 v4.0 M149.06,306.45 v-4.0 M149.06,19.0 v4.0 M165.02,306.45 v-7.8 M165.02,19.0 v7.8 M180.98,306.45 v-4.0 M180.98,19.0 v4.0 M196.93,306.45 v-4.0 M196.93,19.0 v4.0 M212.89,306.45 v-4.0 M212.89,19.0 v4.0 M228.85,306.45 v-4.0 M228.85,19.0 v4.0 M244.81,306.45 v-7.8 M244.81,19.0 v7.8 M260.77,306.45 v-4.0 M260.77,19.0 v4.0 M276.73,306.45 v-4.0 M276.73,19.0 v4.0 M292.68,306.45 v-4.0 M292.68,19.0 v4.0 M308.64,306.45 v-4.0 M308.64,19.0 v4.0 M324.60,306.45 v-7.8 M324.60,19.0 v7.8 M37.35,306.45 h7.8 M324.6,306.45 h-7.8 M37.35,292.08 h4.0 M324.6,292.08 h-4.0 M37.35,277.70 h4.0 M324.6,277.70 h-4.0 M37.35,263.33 h4.0 M324.6,263.33 h-4.0 M37.35,248.96 h4.0 M324.6,248.96 h-4.0 M37.35,234.59 h7.8 M324.6,234.59 h-7.8 M37.35,220.21 h4.0 M324.6,220.21 h-4.0 M37.35,205.84 h4.0 M324.6,205.84 h-4.0 M37.35,191.47 h4.0 M324.6,191.47 h-4.0 M37.35,177.10 h4.0 M324.6,177.10 h-4.0 M37.35,162.72 h7.8 M324.6,162.72 h-7.8 M37.35,148.35 h4.0 M324.6,148.35 h-4.0 M37.35,133.98 h4.0 M324.6,133.98 h-4.0 M37.35,119.61 h4.0 M324.6,119.61 h-4.0 M37.35,105.23 h4.0 M324.6,105.23 h-4.0 M37.35,90.86 h7.8 M324.6,90.86 h-7.8 M37.35,76.49 h4.0 M324.6,76.49 h-4.0 M37.35,62.12 h4.0 M324.6,62.12 h-4.0 M37.35,47.75 h4.0 M324.6,47.75 h-4.0 M37.35,33.37 h4.0 M324.6,33.37 h-4.0 M37.35,19.00 h7.8 M324.6,19.00 h-7.8" stroke="#000" stroke-width="1" fill="none"/>
<rect x="37.35" y="19.0" width="287.25" height="287.45" fill="none" stroke="#000" stroke-width="1.1"/>
<line x1="266" y1="236.3" x2="309.7" y2="236.3" stroke="#0000ff" stroke-width="1.05"/>
<line x1="266" y1="254.4" x2="309.7" y2="254.4" stroke="#228b22" stroke-width="0.95"/>
<line x1="266" y1="272.3" x2="309.7" y2="272.3" stroke="#e27219" stroke-width="1.0"/>
<line x1="266" y1="290.1" x2="309.7" y2="290.1" stroke="#000000" stroke-width="0.95"/>
</svg>
<div class="t tk" style="left:17.6px;top:13.8px;">10</div>
<div class="t tk" style="left:24px;top:85.2px;">9</div>
<div class="t tk" style="left:24px;top:157.1px;">8</div>
<div class="t tk" style="left:24px;top:228.9px;">7</div>
<div class="t tk" style="left:24px;top:300.8px;">6</div>
<div class="t tk" style="left:82px;top:311.55px;">9</div>
<div class="t tk" style="left:158px;top:311.55px;">10</div>
<div class="t tk" style="left:238px;top:311.55px;letter-spacing:1.4px;">11</div>
<div class="t tk" style="left:318.2px;top:311.55px;letter-spacing:1.2px;">12</div>
<div class="t" style="left:47.6px;top:30px;font-size:12px;letter-spacing:1.2px;">(a)</div>
<div class="lab" style="left:128px;top:326px;"><span class="m" style="left:0px;">Log</span><span class="s" style="left:18.9px;font-weight:normal;font-size:8.4px;letter-spacing:0.3px;-webkit-text-stroke:0.15px #000;">10</span><span class="m" style="left:28.8px;">(</span><span class="m" style="left:33.6px;">M</span><span class="s" style="left:44px;">Bulge</span><span class="m" style="left:63.5px;">)</span><span class="m" style="left:75.2px;">[</span><span class="m" style="left:79.4px;">M</span><span class="o" style="left:89.6px;"></span><span class="m" style="left:97.0px;">]</span></div>
<div class="lab" style="left:2.5px;top:209.8px;transform-origin:0 0;transform:rotate(-90deg);"><span class="m" style="left:0px;">Log</span><span class="s" style="left:19.2px;font-weight:normal;font-size:8.4px;letter-spacing:0.3px;-webkit-text-stroke:0.15px #000;">10</span><span class="m" style="left:28.7px;">(</span><span class="m" style="left:33.2px;">M</span><span class="s" style="left:43.2px;">BH</span><span class="m" style="left:54.6px;">)</span><span class="m" style="left:67.5px;">[</span><span class="m" style="left:71.1px;">M</span><span class="o" style="left:81.0px;"></span><span class="m" style="left:85.6px;">]</span></div>
<div class="t lg" style="left:221px;top:229.9px;color:#0000ff;font-weight:bold;"><span class="z">z</span> &nbsp;= &nbsp;6.20</div>
<div class="t lg" style="left:221px;top:247.9px;color:#228b22;-webkit-text-stroke:0.12px #228b22;"><span class="z">z</span> &nbsp;= &nbsp;2.42</div>
<div class="t lg" style="left:221px;top:265.9px;color:#e27219;-webkit-text-stroke:0.12px #e27219;"><span class="z">z</span> &nbsp;= &nbsp;1.08</div>
<div class="t lg" style="left:221px;top:283.9px;color:#000;-webkit-text-stroke:0.1px #000;"><span class="z">z</span> &nbsp;= &nbsp;0.00</div>
</div></body></html>
